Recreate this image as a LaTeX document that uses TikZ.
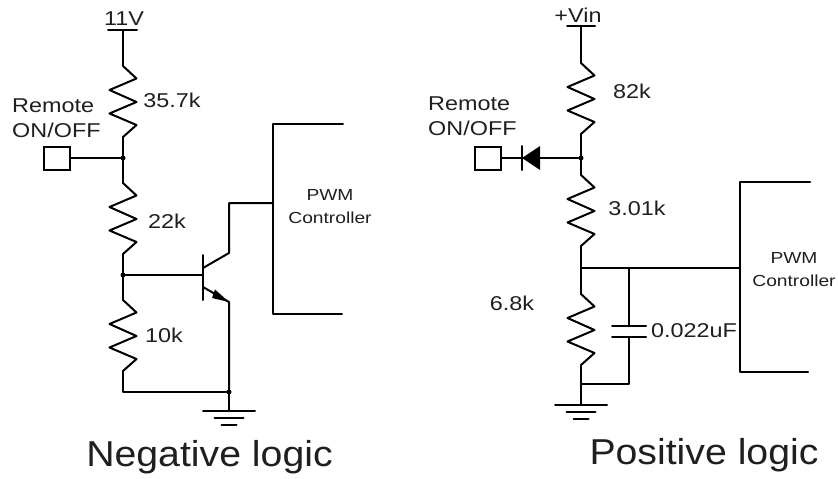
\documentclass[tikz,border=0pt]{standalone}
\usepackage{fontspec}
\setmainfont{Liberation Sans}
\newfontfamily\widefont[FakeStretch=1.17]{Liberation Sans}
\newfontfamily\pwmfont[FakeStretch=1.2]{Liberation Sans}
\newfontfamily\capfont[FakeStretch=1.09]{Liberation Sans}
\tikzset{
  wire/.style={line width=2pt,line cap=round,line join=round,black},
  lbl/.style={inner sep=0pt,font=\widefont\fontsize{20}{24}\selectfont,text=black!88},
  lbltwo/.style={inner sep=0pt,align=left,font=\widefont\fontsize{20}{24.5}\selectfont,text=black!88},
  pwm/.style={inner sep=0pt,align=center,font=\pwmfont\fontsize{16}{23}\selectfont,text=black!88},
  captext/.style={inner sep=0pt,font=\capfont\fontsize{36}{40}\selectfont,text=black!88},
  term/.style={draw,line width=2pt,minimum width=26pt,minimum height=23pt,inner sep=0pt},
  dotj/.style={circle,fill=black,inner sep=0pt,minimum size=5pt},
  resistor/.pic={
    \coordinate (-top) at (0,0);
    \coordinate (-bot) at (0,71);
    \draw[wire] (0,0) -- (13.5,12.5) -- (-13.5,24) -- (13.5,36) -- (-13.5,47.5) -- (13.5,59) -- (0,71);
  },
  groundsym/.pic={
    \draw[wire] (-26,0) -- (26,0) (-14.5,7) -- (14.5,7) (-7.5,14) -- (7.5,14);
  }
}
\begin{document}
\begin{tikzpicture}[x=1pt,y=-1pt]
\useasboundingbox (0,0) rectangle (838,479);
% ---------- negative logic ----------
\node[lbl] (vA) at (124,19) {11V};
\coordinate (railA) at (123,30);
\draw[wire] (108,30) -- (137,30);
\pic (ra) at (123,66) {resistor};
\node[lbl] (la) at (172,100) {35.7k};
\node[lbltwo,anchor=west] (remA) at (12,118) {Remote\\ON/OFF};
\node[term] (sqA) at (56.5,158) {};
\node[dotj] (ja) at (123,158) {};
\pic (rb) at (123,183) {resistor};
\node[lbl] (lb) at (167,221) {22k};
\node[dotj] (jb) at (123,275) {};
\pic (rc) at (123,300) {resistor};
\node[lbl] (lc) at (164,335) {10k};
\node[dotj] (jc) at (229,392) {};
\coordinate (cnrA) at (123,392);
\coordinate (gndA) at (229,411);
\pic at (gndA) {groundsym};
\coordinate (baseA) at (203,275);
\draw[wire] (203,255) -- (203,300);
\coordinate (colA) at (229,253);
\coordinate (colB) at (229,203);
\coordinate (emA) at (229,302);
\coordinate (pwmA) at (273,203);
\draw[wire] (railA) -- (ra-top) (ra-bot) -- (ja) -- (rb-top) (rb-bot) -- (jb) -- (rc-top) (rc-bot) -- (cnrA) -- (jc) -- (gndA);
\draw[wire] (sqA) -- (ja);
\draw[wire] (jb) -- (baseA);
\draw[wire] (203,268) -- (colA) -- (colB) -- (pwmA);
\draw[wire] (203,287) -- (emA) -- (jc);
\fill (emA) -- (215,289.5) -- (212,298) -- cycle;
\draw[wire] (343,124) -- (273,124) -- (273,314) -- (342,314);
\node[pwm] (pA) at (330,207) {PWM\\Controller};
\node[captext] (capA) at (209.5,457) {Negative logic};
% ---------- positive logic ----------
\node[lbl] (vB) at (578,15) {+Vin};
\coordinate (railB) at (581,26);
\draw[wire] (567,26) -- (595,26);
\pic (rd) at (581,63) {resistor};
\node[lbl] (ld) at (632,91) {82k};
\node[lbltwo,anchor=west] (remB) at (428,116) {Remote\\ON/OFF};
\node[term] (sqB) at (487.5,158) {};
\node[dotj] (jd) at (581,158) {};
\pic (re) at (581,175) {resistor};
\node[lbl] (le) at (637,208) {3.01k};
\coordinate (jf) at (581,268);
\pic (rf) at (581,294) {resistor};
\node[lbl] (lf) at (512,303) {6.8k};
\coordinate (capT) at (629,268);
\coordinate (capU) at (629,326);
\coordinate (capL) at (629,337);
\coordinate (capB) at (629,384);
\coordinate (jg) at (581,384);
\coordinate (gndB) at (581,405);
\pic at (gndB) {groundsym};
\coordinate (pwmB) at (740,268);
\draw[wire] (612,326) -- (646,326) (612,337) -- (646,337);
\node[lbl] (lg) at (694,331) {0.022uF};
\coordinate (diT) at (522,158);
\draw[wire] (railB) -- (rd-top) (rd-bot) -- (jd) -- (re-top) (re-bot) -- (jf) -- (rf-top) (rf-bot) -- (jg) -- (gndB);
\draw[wire] (sqB) -- (diT);
\draw[wire] (diT) -- (jd);
\draw[wire] (522,146) -- (522,170);
\fill (diT) -- (540,146) -- (540,170) -- cycle;
\draw[wire] (jf) -- (capT) -- (pwmB);
\draw[wire] (capT) -- (capU);
\draw[wire] (capL) -- (capB) -- (jg);
\draw[wire] (810,182) -- (740,182) -- (740,372) -- (808,372);
\node[pwm] (pB) at (794,270) {PWM\\Controller};
\node[captext] (capC) at (704,455) {Positive logic};
\end{tikzpicture}
\end{document}
